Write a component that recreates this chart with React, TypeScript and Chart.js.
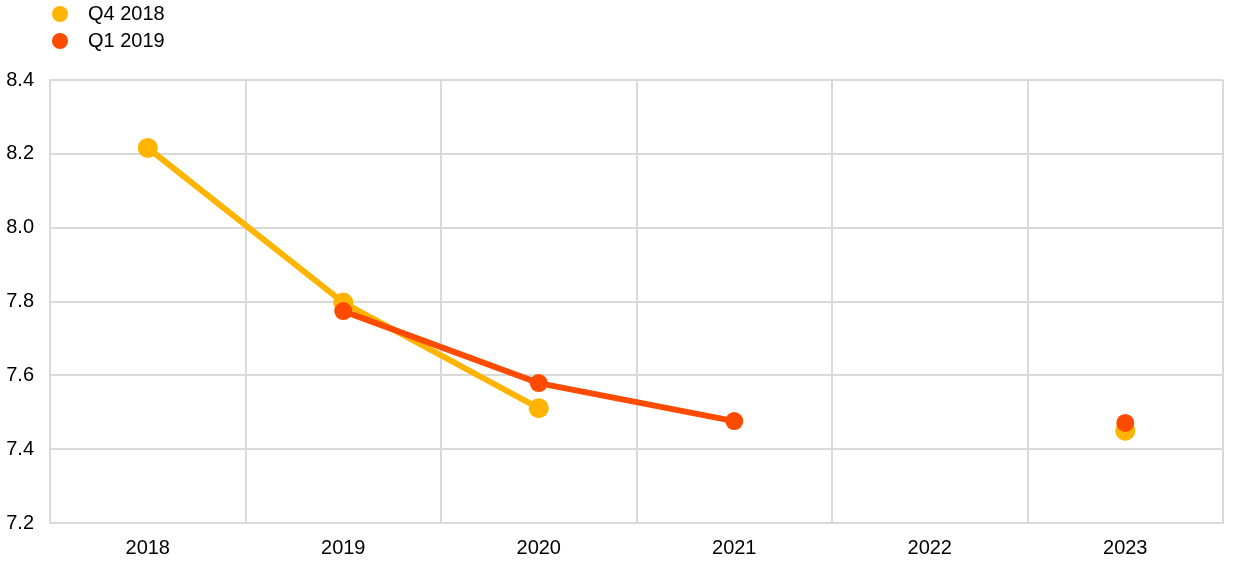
import React, { useEffect, useRef } from "react";
import { Chart, registerables } from "chart.js";

Chart.register(...registerables);

const categories = ["2018", "2019", "2020", "2021", "2022", "2023"];
const seriesNames = ["Q4 2018", "Q1 2019"];
const q4_2018 = [8.216, 7.797, 7.511, null, null, 7.45];
const q1_2019 = [null, 7.774, 7.579, 7.476, null, 7.471];
const yTicks = [7.2, 7.4, 7.6, 7.8, 8.0, 8.2, 8.4];
const colors = ["#FFB400", "#FF4B00"];

const FONT = "'Liberation Sans', Arial, sans-serif";

export default function App() {
  const ref = useRef<HTMLCanvasElement | null>(null);

  useEffect(() => {
    document.body.style.margin = "0";
    const ctx = ref.current!;
    const chart = new Chart(ctx, {
      type: "line",
      data: {
        labels: categories,
        datasets: [
          {
            label: seriesNames[0],
            data: q4_2018,
            borderColor: colors[0],
            backgroundColor: colors[0],
            pointBackgroundColor: colors[0],
            borderWidth: 6,
            pointRadius: 10,
            pointBorderWidth: 0,
            spanGaps: false,
            order: 1,
          },
          {
            label: seriesNames[1],
            data: q1_2019,
            borderColor: colors[1],
            backgroundColor: colors[1],
            pointBackgroundColor: colors[1],
            borderWidth: 6,
            pointRadius: 9,
            pointBorderWidth: 0,
            spanGaps: false,
            order: 0,
          },
        ],
      },
      options: {
        animation: false,
        responsive: false,
        maintainAspectRatio: false,
        layout: { padding: { top: 80, left: 6, right: 17, bottom: 0 } },
        plugins: {
          legend: { display: false },
          tooltip: { enabled: false },
        },
        scales: {
          x: {
            offset: true,
            grid: {
              offset: true,
              color: "#d9d9d9",
              lineWidth: 2,
              drawTicks: false,
            },
            border: { color: "#d9d9d9", width: 2 },
            ticks: {
              color: "#000",
              font: { family: FONT, size: 20 },
              padding: 13,
            },
            afterFit: (axis: any) => {
              axis.height = 43;
            },
          },
          y: {
            min: 7.2,
            max: 8.4,
            afterBuildTicks: (axis: any) => {
              axis.ticks = yTicks.map((v) => ({ value: v }));
            },
            afterFit: (axis: any) => {
              axis.width = 44;
            },
            grid: { color: "#d9d9d9", lineWidth: 2, drawTicks: false },
            border: { color: "#d9d9d9", width: 2 },
            ticks: {
              color: "#000",
              font: { family: FONT, size: 20 },
              padding: 16,
              callback: (v: any) => Number(v).toFixed(1),
            },
          },
        },
      },
    });
    return () => chart.destroy();
  }, []);

  return (
    <div style={{ position: "relative", width: 1240, height: 566, background: "#fff" }}>
      <canvas ref={ref} width={1240} height={566} style={{ position: "absolute", left: 0, top: 0 }} />
      <div style={{ position: "absolute", left: 52, top: 0, fontFamily: FONT, fontSize: 20, color: "#000" }}>
        {seriesNames.map((n, i) => (
          <div key={n} style={{ display: "flex", alignItems: "center", height: 27 }}>
            <span
              style={{
                display: "inline-block",
                width: 16,
                height: 16,
                borderRadius: "50%",
                background: colors[i],
                marginRight: 20,
              }}
            />
            <span>{n}</span>
          </div>
        ))}
      </div>
    </div>
  );
}
